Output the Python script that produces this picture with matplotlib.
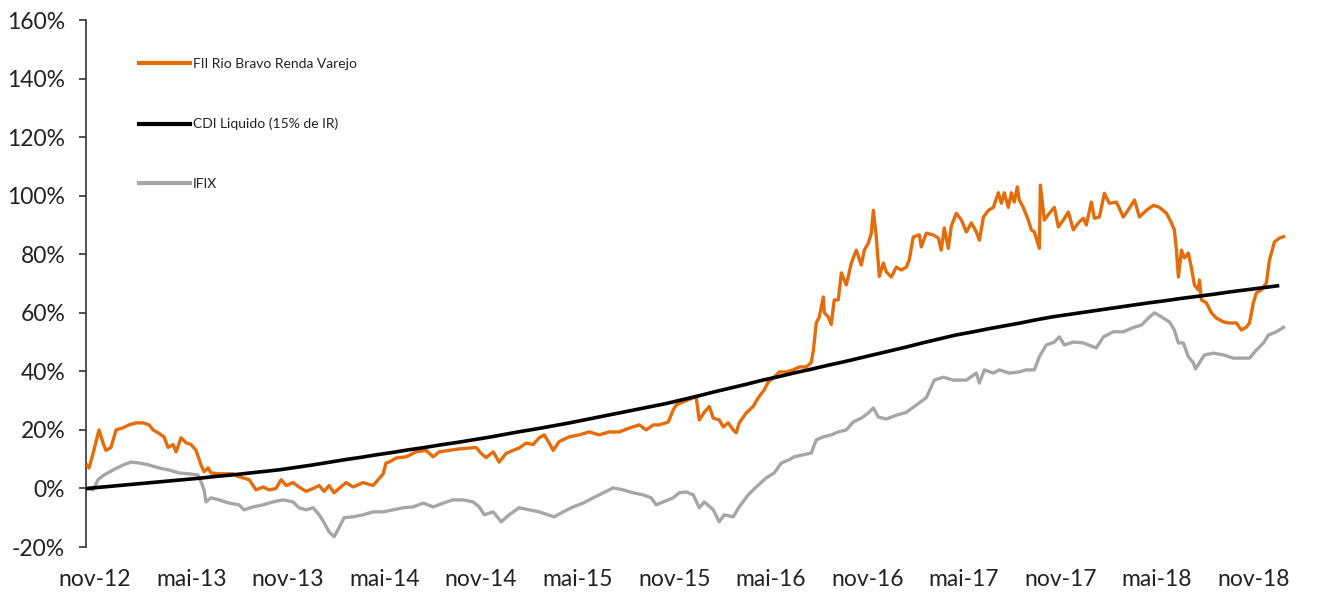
import numpy as np
import matplotlib
matplotlib.use('Agg')
import matplotlib.pyplot as plt

# months counted from nov-12
fii_month = [-0.50, -0.37, -0.12, 0.25, 0.50, 0.68, 0.99, 1.31, 1.74, 2.11, 2.55, 2.98, 3.36, 3.61,
             3.92, 4.29, 4.54, 4.85, 5.04, 5.35, 5.66, 5.97, 6.28, 6.59, 6.78, 7.03, 7.21, 7.71,
             8.58, 8.95, 9.58, 10.01, 10.45, 10.82, 11.25, 11.57, 11.88, 12.31, 12.68, 13.12,
             13.56, 13.93, 14.24, 14.55, 14.86, 15.17, 15.61, 16.04, 16.66, 17.29, 17.60, 17.91,
             18.09, 18.28, 18.72, 19.34, 19.96, 20.58, 21.02, 21.39, 22.01, 22.63, 23.26, 23.69,
             24.00, 24.31, 24.75, 25.12, 25.56, 25.99, 26.36, 26.80, 27.23, 27.61, 27.92, 28.23,
             28.48, 28.85, 29.47, 30.09, 30.72, 31.34, 31.96, 32.58, 33.20, 33.83, 34.26, 34.70,
             35.07, 35.63, 35.94, 36.13, 36.56, 36.75, 37.19, 37.37, 37.56, 37.87, 38.18, 38.43,
             38.80, 39.05, 39.36, 39.67, 39.86, 40.04, 40.48, 40.91, 41.23, 41.60, 41.85, 42.16,
             42.53, 42.97, 43.40, 43.78, 44.21, 44.52, 44.65, 44.83, 45.02, 45.27, 45.33, 45.58,
             45.76, 45.95, 46.20, 46.39, 46.70, 47.01, 47.32, 47.63, 47.82, 48.07, 48.25, 48.38,
             48.56, 48.75, 49.00, 49.18, 49.50, 49.81, 50.12, 50.43, 50.61, 50.86, 51.24, 51.36,
             51.67, 52.11, 52.42, 52.60, 52.79, 53.04, 53.23, 53.54, 53.85, 54.16, 54.47, 54.78,
             54.97, 55.22, 55.53, 55.84, 56.15, 56.34, 56.52, 56.77, 56.96, 57.14, 57.33, 57.45,
             57.70, 58.01, 58.20, 58.39, 58.70, 58.76, 59.01, 59.32, 59.63, 59.88, 60.19, 60.50,
             60.81, 61.12, 61.43, 61.62, 61.93, 62.12, 62.43, 62.74, 63.05, 63.49, 63.92, 64.29,
             64.61, 64.92, 65.35, 65.79, 66.16, 66.60, 66.91, 67.09, 67.22, 67.34, 67.53, 67.71,
             67.96, 68.15, 68.34, 68.58, 68.65, 68.77, 69.08, 69.39, 69.70, 70.14, 70.51, 70.95,
             71.26, 71.57, 71.76, 72.00, 72.19, 72.50, 72.81, 73.00, 73.31, 73.62, 73.87]
fii_pct = [8, 7, 12, 20, 15.5, 13, 14, 20, 20.7, 21.7, 22.4, 22.4, 21.7, 20,
           19, 17.6, 14, 15, 12.5, 17.3, 15.6, 15, 13, 8, 5.7, 7, 5.3, 5,
           5, 4, 3, -0.5, 0.5, -0.5, 0, 3, 1, 2, 0.5, -1,
           0, 1, -1, 1, -1.5, 0, 2, 0.5, 2, 1, 3, 5,
           8.7, 9, 10.4, 10.8, 12.5, 13, 10.8, 12.5, 13, 13.5, 13.8, 14,
           12, 10.5, 12.5, 9, 12, 13, 13.8, 15.5, 15, 17.3, 18.3, 15.5,
           13, 16, 17.6, 18.3, 19.3, 18.3, 19.3, 19.3, 20.6, 21.7, 20, 21.7,
           21.7, 22.7, 26.8, 28.5, 29.6, 30, 31, 31, 23.4, 26, 28, 24,
           23.4, 21, 22.4, 20, 19, 22.4, 25.8, 28, 31, 33.7, 36.4, 37.7,
           39.8, 39.8, 40.5, 41.5, 41.5, 43, 47, 56.5, 58.6, 65.4, 60, 58.6,
           56, 64.4, 64.4, 73.6, 69.5, 77, 81.4, 76.3, 81.4, 83.8, 87.2, 95,
           86, 72.4, 77, 74, 72.2, 75.6, 74.6, 75.6, 78, 85.9, 86.6, 82.5,
           87.2, 86.6, 85.5, 81.4, 89, 82, 89.7, 94, 91.7, 87.6, 90.7, 87.6,
           84.8, 92.7, 95, 96, 101, 97.4, 101, 96, 101, 97.8, 103, 98.5,
           96, 91.7, 88.3, 87.6, 82, 103.6, 91.7, 94, 96, 89.3, 91.7, 94.4,
           88.3, 90.7, 92.3, 90, 97.8, 92.3, 92.7, 100.8, 97.4, 97.8, 92.7, 95.7,
           98.5, 92.7, 95, 96.7, 96, 94, 90.7, 88.3, 81.4, 72.2, 81.4, 78.7,
           80.4, 75.3, 69.5, 67.8, 71.2, 64.4, 63.4, 60, 58.2, 56.9, 56.5, 56.5,
           54.1, 55.1, 56.5, 63.4, 66.8, 67.8, 70.2, 78, 84.2, 85.5, 86]

ifix_month = [-0.56, -0.12, 0.19, 0.56, 1.12, 1.74, 2.24, 2.74, 3.36, 3.98, 4.60, 5.22, 5.84, 6.40,
              6.59, 6.78, 6.90, 7.21, 7.71, 8.33, 8.95, 9.26, 9.82, 10.45, 11.07, 11.69, 12.31,
              12.68, 13.12, 13.56, 13.93, 14.24, 14.55, 14.86, 15.17, 15.48, 16.04, 16.66, 17.29,
              17.91, 18.53, 19.15, 19.77, 20.40, 21.02, 21.64, 22.26, 22.88, 23.50, 23.88, 24.19,
              24.75, 25.25, 25.74, 26.36, 26.99, 27.61, 28.17, 28.54, 29.10, 29.72, 30.34, 30.97,
              31.59, 32.21, 32.83, 33.45, 34.07, 34.57, 34.88, 35.32, 35.94, 36.31, 36.75, 37.19,
              37.56, 37.87, 38.43, 38.80, 39.11, 39.67, 40.04, 40.60, 41.10, 41.72, 42.22, 42.66,
              43.15, 43.46, 44.02, 44.52, 44.83, 45.27, 45.76, 46.20, 46.70, 47.13, 47.63, 48.07,
              48.38, 48.69, 49.18, 49.81, 50.43, 51.05, 51.67, 52.17, 52.73, 53.35, 54.16, 54.78,
              54.97, 55.28, 55.84, 56.21, 56.83, 57.45, 57.89, 58.39, 58.70, 59.13, 59.63, 59.94,
              60.25, 60.81, 61.43, 62.24, 62.68, 63.30, 63.92, 64.54, 65.04, 65.48, 65.85, 66.29,
              66.78, 67.09, 67.34, 67.65, 67.96, 68.27, 68.40, 68.65, 68.96, 69.52, 70.14, 70.76,
              71.38, 71.76, 72.19, 72.63, 72.94, 73.43, 73.87]
ifix_pct = [0, -0.5, 3, 4.6, 6.3, 8, 9, 8.7, 8, 7, 6.3, 5.3, 5, 4.6,
            2.3, -0.5, -4.6, -3.2, -3.9, -5, -5.6, -7.3, -6.3, -5.6, -4.6, -3.9, -4.6,
            -6.6, -7.3, -6.6, -9, -11.7, -14.8, -16.5, -13.4, -10, -9.7, -9, -8,
            -8, -7.3, -6.6, -6.3, -5, -6.3, -5, -3.9, -3.9, -4.6, -6.3, -9,
            -8, -11.4, -9, -6.6, -7.3, -8, -9, -9.7, -8, -6.3, -5, -3.2,
            -1.5, 0.2, -0.5, -1.5, -2.2, -3.2, -5.6, -4.6, -3.2, -1.5, -1.2, -2.2,
            -6.6, -4.6, -7.3, -11.4, -9, -9.7, -6.3, -2.2, 0.5, 3.6, 5.3, 8.7,
            9.8, 10.8, 11.5, 12.1, 16.6, 17.6, 18.3, 19.3, 20, 22.7, 24, 25.8,
            27.5, 24.4, 23.7, 25, 26, 28.5, 31, 37, 38, 37, 37, 39.4,
            36, 40.5, 39.4, 40.5, 39.4, 39.8, 40.5, 40.5, 45, 49, 50, 51.8,
            49, 50, 49.7, 48, 51.8, 53.5, 53.5, 55, 55.8, 58.2, 60, 58.6,
            56.9, 54.1, 49.7, 49.7, 45, 42.9, 40.8, 42.9, 45.6, 46.2, 45.6, 44.5,
            44.5, 44.5, 47.3, 49.7, 52.4, 53.5, 55]

# CDI liquido, one value per month starting nov-12
cdi_pct = [0, 0.5, 1.0, 1.5, 2.0, 2.5, 3.0, 3.5, 4.1, 4.6, 5.2, 5.8, 6.4,
           7.2, 8.0, 8.9, 9.8, 10.6, 11.5, 12.3, 13.2, 14.0, 14.9, 15.7, 16.6,
           17.5, 18.5, 19.5, 20.4, 21.4, 22.4, 23.5, 24.6, 25.7, 26.8, 27.9, 29.0,
           30.3, 31.6, 33.0, 34.3, 35.6, 37.0, 38.2, 39.5, 40.7, 42.0, 43.2, 44.5,
           45.8, 47.1, 48.4, 49.8, 51.1, 52.4, 53.4, 54.5, 55.5, 56.5, 57.6, 58.6,
           59.4, 60.2, 61.0, 61.8, 62.6, 63.4, 64.1, 64.9, 65.6, 66.3, 67.1, 67.8,
           68.5, 69.2]
cdi_month = np.arange(len(cdi_pct)) - 0.5

tick_labels = ['nov-12', 'mai-13', 'nov-13', 'mai-14', 'nov-14', 'mai-15', 'nov-15',
               'mai-16', 'nov-16', 'mai-17', 'nov-17', 'mai-18', 'nov-18']
tick_months = np.arange(len(tick_labels)) * 6

plt.rcParams['font.family'] = ['Lato', 'DejaVu Sans']

fig = plt.figure(figsize=(13.28, 5.99), dpi=100)
ax = fig.add_axes([0.06476, 0.08681, 0.91416, 0.87980])

ax.plot(fii_month, fii_pct, color='#E46C0A', lw=2.4, label='FII Rio Bravo Renda Varejo', zorder=3)
ax.plot(cdi_month, cdi_pct, color='black', lw=2.6, label='CDI Liquido (15% de IR)', zorder=4)
ax.plot(ifix_month, ifix_pct, color='#A6A6A6', lw=2.4, label='IFIX', zorder=2)

ax.set_xlim(-0.56, 74.9)
ax.set_ylim(-20, 160)
ax.set_yticks(np.arange(-20, 161, 20))
ax.set_yticklabels([f'{v}%' for v in range(-20, 161, 20)])
ax.set_xticks(tick_months)
ax.set_xticklabels(tick_labels)

for s in ['top', 'right', 'bottom']:
    ax.spines[s].set_visible(False)
ax.spines['left'].set_color('#333333')
ax.spines['left'].set_linewidth(1.2)
ax.tick_params(axis='y', length=5, width=1.2, color='#333333', pad=10,
               labelsize=16.5, labelcolor='#222222')
ax.tick_params(axis='x', length=0, pad=16, labelsize=16.5, labelcolor='#222222')

leg = ax.legend(loc='upper left', bbox_to_anchor=(0.0437, 0.928), frameon=False,
                borderaxespad=0, borderpad=0, handlelength=3.67, handletextpad=0.2,
                labelspacing=3.45, prop={'size': 10})
for line in leg.get_lines():
    line.set_linewidth(3)
for t in leg.get_texts():
    t.set_color('#222222')

fig.savefig('out.png', dpi=100)
